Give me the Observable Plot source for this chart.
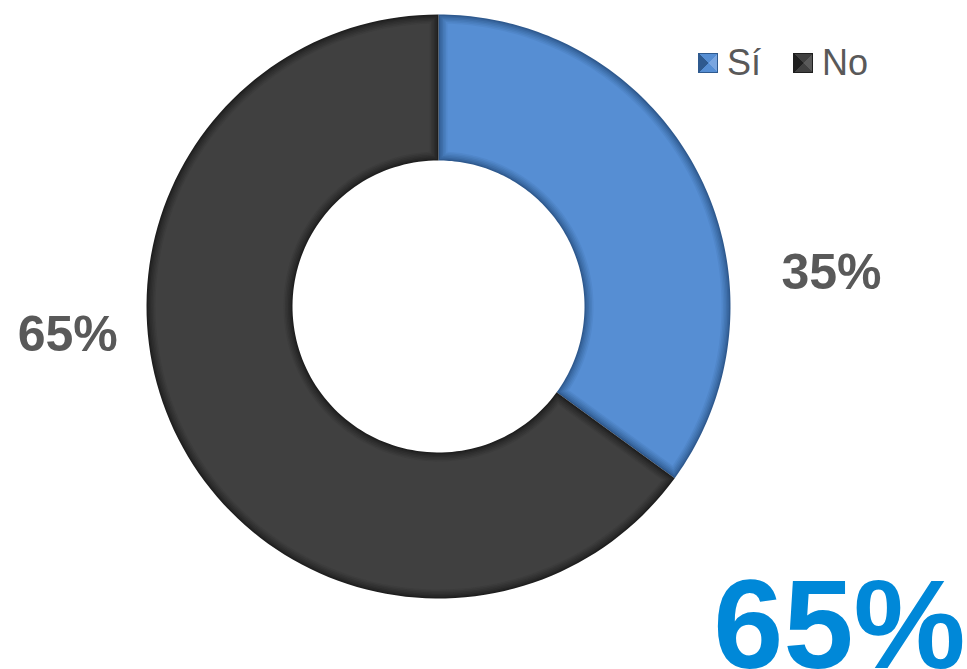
<!DOCTYPE html>
<html><head><meta charset="utf-8">
<script src="https://cdn.jsdelivr.net/npm/d3@7"></script>
<script src="https://cdn.jsdelivr.net/npm/@observablehq/plot@0.6"></script>
<style>
body{margin:0;background:#fff;font-family:"Liberation Sans",Arial,sans-serif}
#wrap{position:relative;width:967px;height:669px;overflow:hidden}
#legend{position:absolute;left:698px;top:43px;display:flex;align-items:center;font-size:36px;color:#595959;line-height:40px}
#legend .item{display:flex;align-items:center;margin-right:32px}
#legend .sw{width:20px;height:20px;margin-right:9px;box-sizing:border-box}
</style>
</head><body><div id="wrap"><div id="legend"></div></div>
<script>
// data
const categories = ["Sí", "No"];
const values = [35, 65];
const highlight = "No";

// styles
const baseColors = ["#568ed3", "#404040"];
const edgeColors = ["#2f5a8f", "#1f1f1f"];
const lightColors = ["#7aa6e0", "#5a5a5a"];

const W = 967, H = 669;
const cx = 438, cy = 306, R = 292; // pixel layout of ring
const innerRatio = 0.5;
const xDomain = [-cx / R, (W - cx) / R];
const yDomain = [-(H - cy) / R, cy / R];

const total = d3.sum(values);
let acc = 0;
const slices = categories.map((c, i) => {
  const a0 = acc / total * 2 * Math.PI;
  acc += values[i];
  const a1 = acc / total * 2 * Math.PI;
  return {cat: c, value: values[i], a0, a1, i};
});

function ring(s, insetPx, layer) {
  const d = insetPx / R;
  const r1 = 1 - d, r0 = innerRatio + d;
  const pts = [];
  const b0 = s.a0 + d / r1, b1 = s.a1 - d / r1;
  const n = 120;
  const key = s.cat + "-" + layer;
  for (let k = 0; k <= n; k++) {
    const a = b0 + (b1 - b0) * k / n;
    pts.push({x: r1 * Math.sin(a), y: r1 * Math.cos(a), key, i: s.i, layer});
  }
  const c0 = s.a0 + d / r0, c1 = s.a1 - d / r0;
  for (let k = n; k >= 0; k--) {
    const a = c0 + (c1 - c0) * k / n;
    pts.push({x: r0 * Math.sin(a), y: r0 * Math.cos(a), key, i: s.i, layer});
  }
  return pts;
}

// bevel layers (style): inset in px
const insets = [0, 1.5, 3, 4.5, 6, 7.5, 9];
const bevelMarks = insets.map((inset, L) => {
  const pts = slices.flatMap(s => ring(s, inset, L));
  const t = Math.pow(L / (insets.length - 1), 0.8);
  return Plot.line(pts, {
    x: "x", y: "y", z: "key", curve: "linear-closed",
    fill: d => d3.interpolateRgb(edgeColors[d.i], baseColors[d.i])(t)
  });
});

// label placement (layout): horizontal offset outside ring, vertical offset
const labelLayout = {"Sí": {r: 1.346, v: 0.116}, "No": {r: -1.27, v: -0.096}};
const labels = slices.map(s => ({
  x: labelLayout[s.cat].r,
  y: labelLayout[s.cat].v,
  text: s.value + "%"
}));
const big = [{text: values[categories.indexOf(highlight)] + "%"}];

const plot = Plot.plot({
  width: W, height: H,
  margin: 0,
  x: {domain: xDomain, range: [0, W], axis: null},
  y: {domain: yDomain, range: [H, 0], axis: null},
  style: {fontFamily: "'Liberation Sans', Arial, sans-serif", background: "transparent"},
  marks: [
    ...bevelMarks,
    Plot.text(labels, {x: "x", y: "y", text: "text", fontSize: 50, fontWeight: "bold", fill: "#595959", textAnchor: "middle"}),
    Plot.text(big, {frameAnchor: "bottom-right", text: "text", fontSize: 126, fontWeight: "bold", fill: "#0088d8", textAnchor: "end", lineAnchor: "bottom", dx: -2, dy: -2})
  ]
});
document.getElementById("wrap").prepend(plot);

// legend
const lg = document.getElementById("legend");
categories.forEach((c, i) => {
  const it = document.createElement("div");
  it.className = "item";
  const sw = document.createElement("div");
  sw.className = "sw";
  sw.style.background = `conic-gradient(from 45deg, ${lightColors[i]} 0 90deg, ${baseColors[i]} 90deg 180deg, ${edgeColors[i]} 180deg 270deg, ${baseColors[i]} 270deg 360deg)`;
  sw.style.border = `1px solid ${edgeColors[i]}`;
  const t = document.createElement("span");
  t.textContent = c;
  it.append(sw, t);
  lg.append(it);
});
</script>
</body></html>
